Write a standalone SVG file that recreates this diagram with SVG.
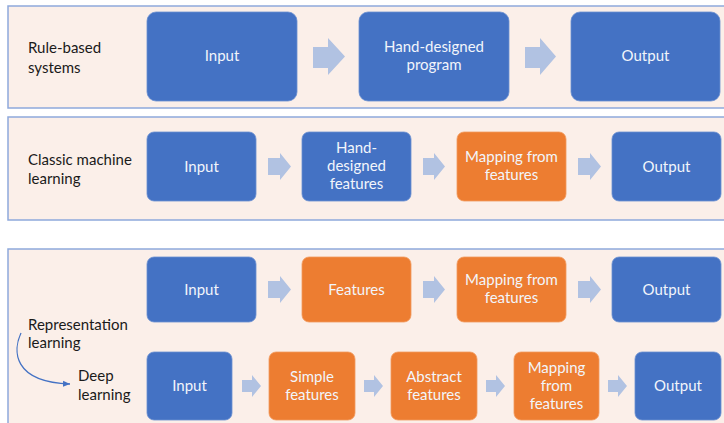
<svg xmlns="http://www.w3.org/2000/svg" width="724" height="423" viewBox="0 0 724 423">
<defs>
<style>
.panel{fill:#FBEFE9;stroke:#8EA9DB;stroke-width:1.5}
.blue{fill:#4472C4;stroke:#6A8FD0;stroke-width:0.8}
.orange{fill:#ED7D31;stroke:#F19A5E;stroke-width:0.8}
.arr{fill:#B1C2E2}
.t{font-family:Lato,"Open Sans","Liberation Sans",sans-serif;font-size:15px;fill:#F2F5FB;text-anchor:middle}
.lab{font-family:Lato,"Open Sans","Liberation Sans",sans-serif;font-size:15px;fill:#1a1a1a}
</style>
<marker id="ah" markerWidth="8" markerHeight="8" refX="7" refY="4" orient="auto" markerUnits="userSpaceOnUse">
<path d="M0,1 L7,4 L0,7 Z" fill="#4472C4"/>
</marker>
</defs>
<rect width="724" height="423" fill="#FFFFFF"/>
<g id="panels">
<rect class="panel" x="8" y="6" width="730" height="102"/>
<rect class="panel" x="8" y="117" width="730" height="103"/>
<rect class="panel" x="8" y="249" width="730" height="190"/>
</g>
<g id="labels">
<text class="lab" x="28" y="53">Rule-based</text>
<text class="lab" x="28" y="73">systems</text>
<text class="lab" x="28" y="165">Classic machine</text>
<text class="lab" x="28" y="184">learning</text>
<text class="lab" x="28" y="330">Representation</text>
<text class="lab" x="28" y="348">learning</text>
<text class="lab" x="78" y="381">Deep</text>
<text class="lab" x="78" y="400">learning</text>
</g>
<g id="connectors">
<path d="M21,333 C13,350 12,382 70,384" fill="none" stroke="#4472C4" stroke-width="1.3" marker-end="url(#ah)"/>
<polygon class="arr" points="313,47 328,47 328,38 345,56.5 328,75 328,68 313,68"/>
<polygon class="arr" points="525,47 540,47 540,38 556,56.5 540,75 540,68 525,68"/>
<polygon class="arr" points="268,158 280,158 280,153 291,166.5 280,180 280,175 268,175"/>
<polygon class="arr" points="423,158 434,158 434,153 445,166.5 434,180 434,175 423,175"/>
<polygon class="arr" points="578,158 590,158 590,153 601,166.5 590,180 590,175 578,175"/>
<polygon class="arr" points="268,281 280,281 280,276 291,289.5 280,303 280,298 268,298"/>
<polygon class="arr" points="423,281 434,281 434,276 445,289.5 434,303 434,298 423,298"/>
<polygon class="arr" points="578,281 590,281 590,276 601,289.5 590,303 590,298 578,298"/>
<polygon class="arr" points="242,380 252,380 252,375 261,386 252,397 252,392 242,392"/>
<polygon class="arr" points="364,380 374,380 374,375 383,386 374,397 374,392 364,392"/>
<polygon class="arr" points="486,380 496,380 496,375 505,386 496,397 496,392 486,392"/>
<polygon class="arr" points="608,380 618,380 618,375 627,386 618,397 618,392 608,392"/>
</g>
<g id="rb-input"><rect class="blue" x="147" y="12" width="150" height="89" rx="9"/><text class="t" x="222" y="61">Input</text></g>
<g id="rb-program"><rect class="blue" x="359" y="12" width="150" height="89" rx="9"/><text class="t" x="434" y="52">Hand-designed</text><text class="t" x="434" y="70">program</text></g>
<g id="rb-output"><rect class="blue" x="571" y="12" width="149" height="89" rx="9"/><text class="t" x="645.5" y="61">Output</text></g>

<g id="cml-input"><rect class="blue" x="147" y="132" width="109" height="69" rx="7"/><text class="t" x="201.5" y="171.5">Input</text></g>
<g id="cml-features"><rect class="blue" x="302" y="132" width="109" height="69" rx="7"/><text class="t" x="356.5" y="153">Hand-</text><text class="t" x="356.5" y="171">designed</text><text class="t" x="356.5" y="189">features</text></g>
<g id="cml-mapping"><rect class="orange" x="457" y="132" width="109" height="69" rx="7"/><text class="t" x="511.5" y="162">Mapping from</text><text class="t" x="511.5" y="180">features</text></g>
<g id="cml-output"><rect class="blue" x="612" y="132" width="109" height="69" rx="7"/><text class="t" x="666.5" y="171.5">Output</text></g>

<g id="rl-input"><rect class="blue" x="147" y="257" width="109" height="65" rx="7"/><text class="t" x="201.5" y="294.5">Input</text></g>
<g id="rl-features"><rect class="orange" x="302" y="257" width="109" height="65" rx="7"/><text class="t" x="356.5" y="294.5">Features</text></g>
<g id="rl-mapping"><rect class="orange" x="457" y="257" width="109" height="65" rx="7"/><text class="t" x="511.5" y="285">Mapping from</text><text class="t" x="511.5" y="303">features</text></g>
<g id="rl-output"><rect class="blue" x="612" y="257" width="109" height="65" rx="7"/><text class="t" x="666.5" y="294.5">Output</text></g>

<g id="dl-input"><rect class="blue" x="147" y="352" width="85" height="68" rx="7"/><text class="t" x="189.5" y="391">Input</text></g>
<g id="dl-simple"><rect class="orange" x="269" y="352" width="86" height="68" rx="7"/><text class="t" x="312" y="382">Simple</text><text class="t" x="312" y="400">features</text></g>
<g id="dl-abstract"><rect class="orange" x="391" y="352" width="86" height="68" rx="7"/><text class="t" x="434" y="382">Abstract</text><text class="t" x="434" y="400">features</text></g>
<g id="dl-mapping"><rect class="orange" x="514" y="352" width="85" height="68" rx="7"/><text class="t" x="556.5" y="373">Mapping</text><text class="t" x="556.5" y="391">from</text><text class="t" x="556.5" y="409">features</text></g>
<g id="dl-output"><rect class="blue" x="635" y="352" width="86" height="68" rx="7"/><text class="t" x="678" y="391">Output</text></g>
</svg>
